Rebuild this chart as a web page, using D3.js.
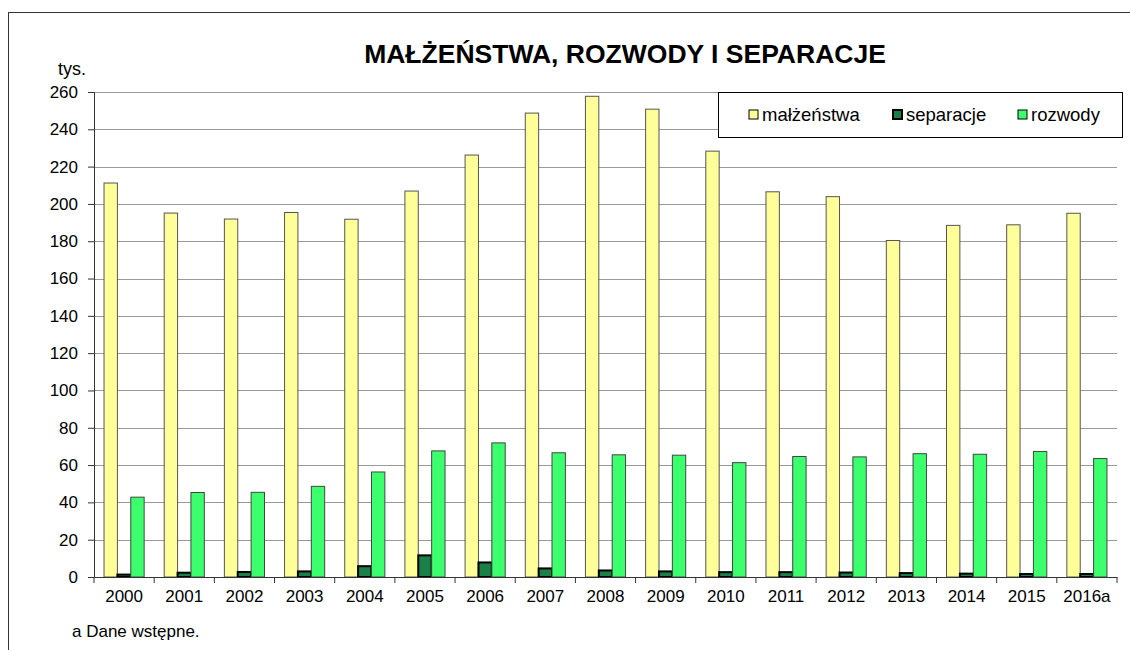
<!DOCTYPE html>
<html>
<head>
<meta charset="utf-8">
<script src="https://cdn.jsdelivr.net/npm/d3@7"></script>
<style>
body { margin: 0; background: #fff; }
text { font-family: "Liberation Sans", Arial, sans-serif; fill: #000; }
</style>
</head>
<body>
<svg id="chart" width="1130" height="650"></svg>
<script>
// data
const years = ["2000","2001","2002","2003","2004","2005","2006","2007","2008","2009","2010","2011","2012","2013","2014","2015","2016a"];
const malzenstwa = [211.2,195.1,191.9,195.4,191.8,206.9,226.2,248.7,257.7,250.8,228.3,206.5,203.9,180.4,188.5,188.8,195.0];
const separacje = [1.3,2.3,2.7,3.0,5.8,11.6,7.8,4.6,3.5,3.0,2.6,2.6,2.4,2.1,1.8,1.6,1.6];
const rozwody = [42.8,45.3,45.4,48.6,56.3,67.6,71.9,66.6,65.5,65.3,61.3,64.6,64.4,66.1,65.8,67.3,63.5];
const yTicks = d3.range(0, 261, 20);

const series = [
  {name: "małżeństwa", values: malzenstwa, fill: "#ffff99", stroke: "#555", sw: 1},
  {name: "separacje", values: separacje, fill: "#1b8048", stroke: "#000", sw: 2},
  {name: "rozwody", values: rozwody, fill: "#3cff6e", stroke: "#444", sw: 1}
];

const svg = d3.select("#chart");

// outer frame
svg.append("rect").attr("x", 8.5).attr("y", 12.5).attr("width", 1140).attr("height", 660)
  .attr("fill", "none").attr("stroke", "#333");

const margin = {left: 94, top: 92, right: 1117, bottom: 577};

const x = d3.scaleBand().domain(years).range([margin.left, margin.right]);
const x1 = d3.scaleBand().domain(series.map(s => s.name)).range([0, x.bandwidth()]).paddingOuter(0.75);
const y = d3.scaleLinear().domain([0, 260]).range([margin.bottom, margin.top]);

// gridlines
svg.append("g").selectAll("line").data(yTicks.filter(d => d > 0)).enter().append("line")
  .attr("x1", margin.left).attr("x2", margin.right)
  .attr("y1", d => Math.round(y(d)) + 0.5).attr("y2", d => Math.round(y(d)) + 0.5)
  .attr("stroke", "#999").attr("stroke-width", 1);

// bars
const groups = svg.append("g").selectAll("g").data(years).enter().append("g")
  .attr("transform", d => `translate(${x(d)},0)`);

series.forEach(s => {
  groups.append("rect")
    .attr("x", (d, i) => x1(s.name))
    .attr("width", x1.bandwidth())
    .attr("y", (d, i) => y(s.values[i]))
    .attr("height", (d, i) => y(0) - y(s.values[i]))
    .attr("fill", s.fill).attr("stroke", s.stroke).attr("stroke-width", s.sw);
});

// axes
const yAxis = svg.append("g").attr("transform", `translate(${margin.left},0)`)
  .call(d3.axisLeft(y).tickValues(yTicks).tickSize(6).tickPadding(10));
const xAxis = svg.append("g").attr("transform", `translate(0,${margin.bottom})`)
  .call(d3.axisBottom(x).tickSize(0).tickPadding(13));
// x ticks at band boundaries
svg.append("g").selectAll("line").data(years.concat(["end"])).enter().append("line")
  .attr("x1", (d, i) => margin.left + i * x.step()).attr("x2", (d, i) => margin.left + i * x.step())
  .attr("y1", margin.bottom).attr("y2", margin.bottom + 6).attr("stroke", "#333");

[yAxis, xAxis].forEach(a => {
  a.select(".domain").attr("stroke", "#333");
  a.selectAll(".tick line").attr("stroke", "#333");
  a.selectAll("text").attr("font-size", 17).attr("font-family", "Liberation Sans, Arial, sans-serif");
});

// title & labels
svg.append("text").attr("x", 625).attr("y", 63).attr("text-anchor", "middle")
  .attr("font-size", 26.5).attr("font-weight", "bold").text("MAŁŻEŃSTWA, ROZWODY I SEPARACJE");
svg.append("text").attr("x", 58).attr("y", 75).attr("font-size", 18).text("tys.");
svg.append("text").attr("x", 72).attr("y", 637).attr("font-size", 17).text("a Dane wstępne.");

// legend
const legend = svg.append("g");
legend.append("rect").attr("x", 718.5).attr("y", 92.5).attr("width", 404).attr("height", 45)
  .attr("fill", "#fff").attr("stroke", "#000");
const legX = [749, 893, 1018];
series.forEach((s, i) => {
  legend.append("rect").attr("x", legX[i]).attr("y", 110).attr("width", 9).attr("height", 9)
    .attr("fill", s.fill).attr("stroke", "#000").attr("stroke-width", i === 1 ? 2 : 1);
  legend.append("text").attr("x", legX[i] + 13).attr("y", 121).attr("font-size", 18.5).text(s.name);
});
</script>
</body>
</html>
